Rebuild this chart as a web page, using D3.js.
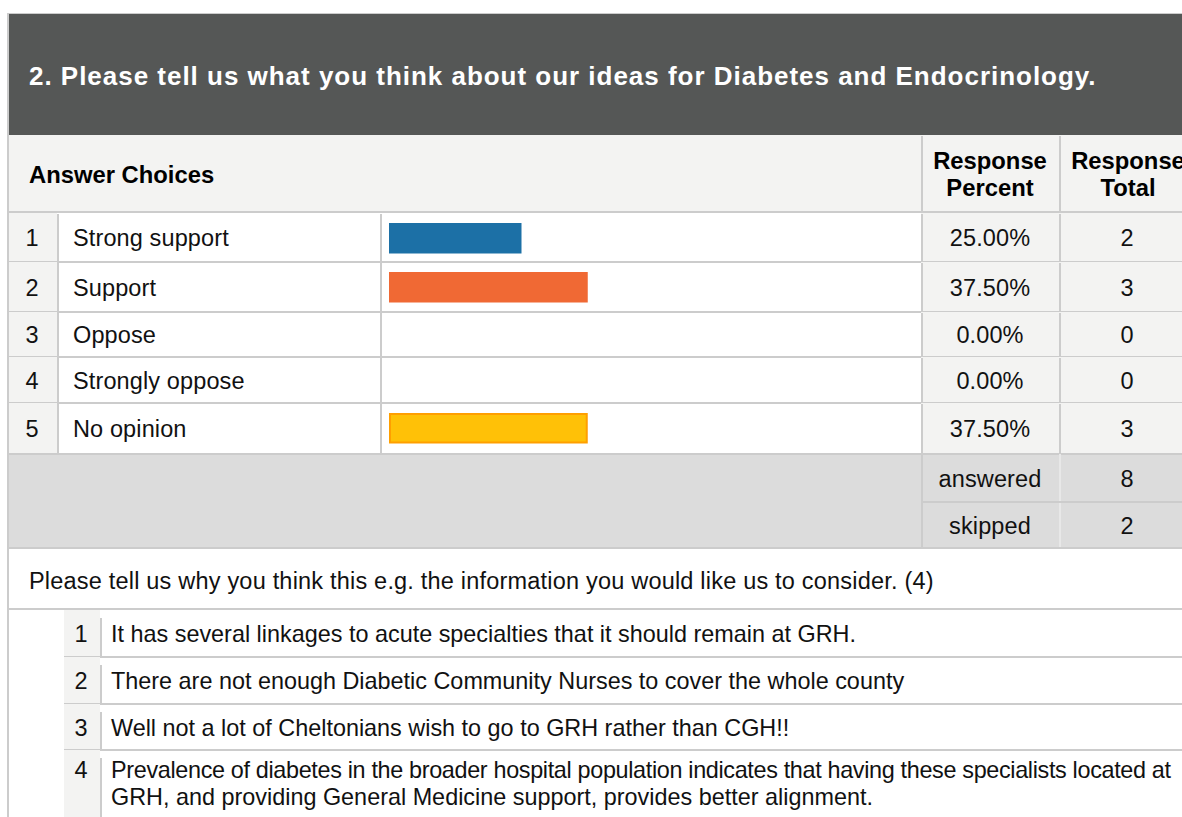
<!DOCTYPE html>
<html>
<head>
<meta charset="utf-8">
<script src="https://cdn.jsdelivr.net/npm/d3@7"></script>
<style>
  html, body { margin: 0; padding: 0; background: #ffffff; }
  svg { display: block; font-family: "Liberation Sans", Arial, Helvetica, sans-serif; }
</style>
</head>
<body>
<svg id="chart" width="1182" height="817"></svg>
<script>
// Survey question and answer data
const questionTitle = "2. Please tell us what you think about our ideas for Diabetes and Endocrinology.";
const choices = ["Strong support", "Support", "Oppose", "Strongly oppose", "No opinion"];
const responsePercent = [0.25, 0.375, 0.0, 0.0, 0.375];
const responseTotal = [2, 3, 0, 0, 3];
const barColors = ["#1c70a6", "#f06934", "#8dc63f", "#9b59b6", "#ffc107"];
const barStroke = [null, null, null, null, "#ff9f00"];
const summaryLabels = ["answered", "skipped"];
const summaryValues = [8, 2];
const commentPrompt = "Please tell us why you think this e.g. the information you would like us to consider. (4)";
const comments = [
  ["It has several linkages to acute specialties that it should remain at GRH."],
  ["There are not enough Diabetic Community Nurses to cover the whole county"],
  ["Well not a lot of Cheltonians wish to go to GRH rather than CGH!!"],
  ["Prevalence of diabetes in the broader hospital population indicates that having these specialists located at",
   "GRH, and providing General Medicine support, provides better alignment."]
];

const W = 1182, H = 817;
const svg = d3.select("#chart");
const FS = 23.5;       // body text size
const FSB = 23.8;      // bold header size
const LS = 0.12;       // body letter spacing
const line = "#cccccc";
const cellGrey = "#f3f3f2";

// column edges
const colNum = 8, colLabel = 57, colBar = 381, colPct = 921, colTot = 1059, colEnd = W;
const pctCx = (colPct + colTot) / 2, totCx = 1127;

// bar scale: share of responses -> bar length
const x = d3.scaleLinear().domain([0, 1]).range([colBar + 8, colBar + 8 + 530]);

// row bands for the five answer choices
const rowEdges = [213, 262, 312, 357, 403, 454];

function bodyText(sel, size, spacing) {
  return sel.attr("font-size", size || FS).attr("letter-spacing", spacing == null ? LS : spacing).attr("fill", "#111");
}

// title band
svg.append("rect").attr("x", colNum).attr("y", 13).attr("width", W - colNum).attr("height", 1).attr("fill", line);
svg.append("rect").attr("x", colNum).attr("y", 14).attr("width", W - colNum).attr("height", 121).attr("fill", "#555756");
svg.append("text").attr("x", 29).attr("y", 85)
  .attr("fill", "#ffffff").attr("font-weight", "bold").attr("font-size", 26).attr("letter-spacing", 0.98)
  .text(questionTitle);

// header row
svg.append("rect").attr("x", colNum).attr("y", 135).attr("width", W - colNum).attr("height", 78).attr("fill", cellGrey);
svg.append("text").attr("x", 29).attr("y", 183).attr("font-weight", "bold").attr("font-size", FSB).attr("fill", "#000")
  .text("Answer Choices");
const hdr = [{cx: pctCx, lines: ["Response", "Percent"]},
             {cx: totCx + 1, lines: ["Response", "Total"]}];
hdr.forEach(h => {
  const t = svg.append("text").attr("text-anchor", "middle").attr("font-weight", "bold")
    .attr("font-size", FSB).attr("fill", "#000");
  h.lines.forEach((s, i) => t.append("tspan").attr("x", h.cx).attr("y", 169 + i * 27).text(s));
});
[colPct, colTot].forEach(cx => svg.append("rect").attr("x", cx).attr("y", 136).attr("width", 2).attr("height", 77).attr("fill", line));
svg.append("rect").attr("x", colNum).attr("y", 211).attr("width", W - colNum).attr("height", 2).attr("fill", line);

// answer rows
const rows = svg.append("g").selectAll("g").data(choices).join("g");
rows.each(function(c, i) {
  const g = d3.select(this);
  const y0 = rowEdges[i], y1 = rowEdges[i + 1];
  const mid = (y0 + y1) / 2;
  g.append("rect").attr("x", colNum).attr("y", y0).attr("width", colLabel - colNum).attr("height", y1 - y0).attr("fill", cellGrey);
  g.append("rect").attr("x", colPct).attr("y", y0).attr("width", colEnd - colPct).attr("height", y1 - y0).attr("fill", cellGrey);
  bodyText(g.append("text")).attr("x", 32).attr("y", mid + 8.5).attr("text-anchor", "middle").text(i + 1);
  bodyText(g.append("text")).attr("x", 73).attr("y", mid + 8.5).text(c);
  if (responsePercent[i] > 0) {
    const sw = barStroke[i] ? 2 : 0;
    g.append("rect")
      .attr("x", x(0) + sw / 2).attr("y", y0 + 10 + sw / 2)
      .attr("width", x(responsePercent[i]) - x(0) - sw).attr("height", 30.5 - sw)
      .attr("fill", barColors[i])
      .attr("stroke", barStroke[i] || "none").attr("stroke-width", sw);
  }
  bodyText(g.append("text")).attr("x", pctCx).attr("y", mid + 8.5).attr("text-anchor", "middle")
    .text(d3.format(".2%")(responsePercent[i]));
  bodyText(g.append("text")).attr("x", totCx).attr("y", mid + 8.5).attr("text-anchor", "middle")
    .text(responseTotal[i]);
  // cell dividers
  [colLabel, colBar - 1, colPct, colTot].forEach(cx =>
    g.append("rect").attr("x", cx).attr("y", y0 + 1).attr("width", 2).attr("height", y1 - y0 - 1).attr("fill", line));
  g.append("rect").attr("x", colNum).attr("y", y1 - 1).attr("width", W - colNum).attr("height", 2).attr("fill", line);
});

// answered / skipped summary
const sumTop = 454, sumMid = 502, sumBot = 548;
svg.append("rect").attr("x", colNum).attr("y", sumTop + 1).attr("width", W - colNum).attr("height", sumBot - sumTop - 1).attr("fill", "#dcdcdc");
const sumEdges = [sumTop, sumMid, sumBot];
summaryLabels.forEach((s, i) => {
  const mid = (sumEdges[i] + sumEdges[i + 1]) / 2;
  bodyText(svg.append("text")).attr("x", pctCx).attr("y", mid + 8.5).attr("text-anchor", "middle").text(s);
  bodyText(svg.append("text")).attr("x", totCx).attr("y", mid + 8.5).attr("text-anchor", "middle").text(summaryValues[i]);
});
svg.append("rect").attr("x", colPct).attr("y", sumTop).attr("width", 2).attr("height", sumBot - sumTop).attr("fill", line);
svg.append("rect").attr("x", colTot).attr("y", sumTop).attr("width", 2).attr("height", sumBot - sumTop).attr("fill", "#e8e8e8");
svg.append("rect").attr("x", colPct).attr("y", sumMid - 1).attr("width", W - colPct).attr("height", 2).attr("fill", line);
svg.append("rect").attr("x", colNum).attr("y", sumBot - 1).attr("width", W - colNum).attr("height", 2).attr("fill", line);

// open comment prompt
bodyText(svg.append("text"), FS, 0.2).attr("x", 29).attr("y", 589).text(commentPrompt);
svg.append("rect").attr("x", colNum).attr("y", 608).attr("width", W - colNum).attr("height", 2).attr("fill", line);

// comment list
const cEdges = [610, 657, 704, 750, 830];
const commentX = 111, commentMaxW = 1060;
comments.forEach((c, i) => {
  const y0 = cEdges[i], y1 = cEdges[i + 1];
  svg.append("rect").attr("x", 64).attr("y", y0).attr("width", 36).attr("height", y1 - y0).attr("fill", cellGrey);
  svg.append("rect").attr("x", 100).attr("y", y0 + 8).attr("width", 2).attr("height", y1 - y0 - 8).attr("fill", line);
  const base = y0 + 32 - (c.length - 1) * 4;
  bodyText(svg.append("text")).attr("x", 81).attr("y", base).attr("text-anchor", "middle").text(i + 1);
  c.forEach((s, k) => {
    const t = bodyText(svg.append("text"), 23.4, 0)
      .attr("x", commentX).attr("y", base + k * 27).text(s);
    // keep long lines inside the cell
    if (t.node().getComputedTextLength() > commentMaxW)
      t.attr("textLength", commentMaxW).attr("lengthAdjust", "spacing");
  });
  if (i < comments.length - 1)
    svg.append("rect").attr("x", 64).attr("y", y1 - 1).attr("width", W - 64).attr("height", 2).attr("fill", line);
});

// outer left border
svg.append("rect").attr("x", 7).attr("y", 13).attr("width", 2).attr("height", H - 13).attr("fill", line);
</script>
</body>
</html>
